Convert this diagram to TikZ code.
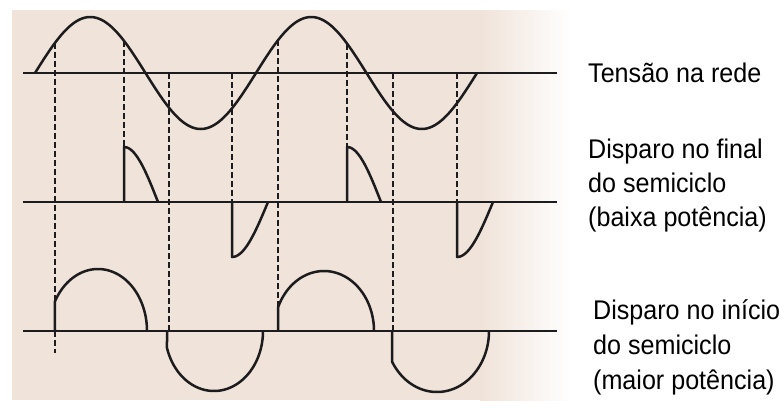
\documentclass[tikz,border=0pt]{standalone}
\usepackage{fontspec}
\setmainfont{Liberation Sans}[FakeStretch=0.93]
\definecolor{paper}{RGB}{240,227,217}
\definecolor{ink}{RGB}{28,28,30}
\begin{document}
\begin{tikzpicture}[x=1pt,y=-1pt,
  axisline/.style={ink, line width=2.3pt},
  wavecurve/.style={ink, line width=2.5pt, line join=round},
  guideline/.style={ink, line width=1.7pt, dash pattern=on 6pt off 3pt},
  txt/.style={font=\fontsize{27}{30}\selectfont, anchor=base west, inner sep=0pt, text=black}]
\useasboundingbox (0,0) rectangle (784,408);
% paper background
\fill[paper] (12,10) rectangle (481,400);
\shade[left color=paper, right color=white] (480,10) rectangle (572,400);
% axes
\draw[axisline] (23,73) -- (557,73);
\draw[axisline] (23,202) -- (557,202);
\draw[axisline] (23,331) -- (557,331);
% dashed guides
\draw[guideline] (55,{73-56*sin((55-35)*1.628959)}) -- (55,353);
\draw[guideline] (124,{73-56*sin((124-35)*1.628959)}) -- (124,147);
\draw[guideline] (169,73) -- (169,331);
\draw[guideline] (232,73) -- (232,202);
\draw[guideline] (278,{73-56*sin((278-35)*1.628959)}) -- (278,331);
\draw[guideline] (347,{73-56*sin((347-35)*1.628959)}) -- (347,147);
\draw[guideline] (393,73) -- (393,331);
\draw[guideline] (457,73) -- (457,202);
% mains voltage
\draw[wavecurve] plot[domain=35:477, samples=220, smooth] (\x,{73-56*sin((\x-35)*1.628959)});
% firing at end of half-cycle
\draw[wavecurve] (124,202) -- (124,147) -- plot[domain=0:90, samples=40, smooth] ({124+34*\x/90},{202-55*cos(\x)});
\draw[wavecurve] (232,202) -- (232,257) -- plot[domain=0:90, samples=40, smooth] ({232+36*\x/90},{202+55*cos(\x)});
\draw[wavecurve] (347,202) -- (347,147) -- plot[domain=0:90, samples=40, smooth] ({347+34*\x/90},{202-55*cos(\x)});
\draw[wavecurve] (457,202) -- (457,257) -- plot[domain=0:90, samples=40, smooth] ({457+36*\x/90},{202+55*cos(\x)});
% firing at start of half-cycle
\draw[wavecurve] (55,331) -- plot[domain=151.4:0, samples=60, smooth] ({98+49*cos(\x)},{331-62*sin(\x)});
\draw[wavecurve] (167,331) -- plot[domain=163.6:0, samples=60, smooth] ({214+49*cos(\x)},{331+60*sin(\x)});
\draw[wavecurve] (278,331) -- plot[domain=156.9:0, samples=60, smooth] ({324+50*cos(\x)},{331-60*sin(\x)});
\draw[wavecurve] (392,331) -- plot[domain=149.9:0, samples=60, smooth] ({437+52*cos(\x)},{331+61*sin(\x)});
% labels
\node[txt] (t1) at (588,82) {Tensão na rede};
\node[txt] (t2a) at (588,158) {Disparo no final};
\node[txt] (t2b) at (588,192) {do semiciclo};
\node[txt] (t2c) at (588,226) {(baixa potência)};
\node[txt] (t3a) at (593,319) {Disparo no início};
\node[txt] (t3b) at (593,354) {do semiciclo};
\node[txt] (t3c) at (593,389) {(maior potência)};
\end{tikzpicture}
\end{document}
